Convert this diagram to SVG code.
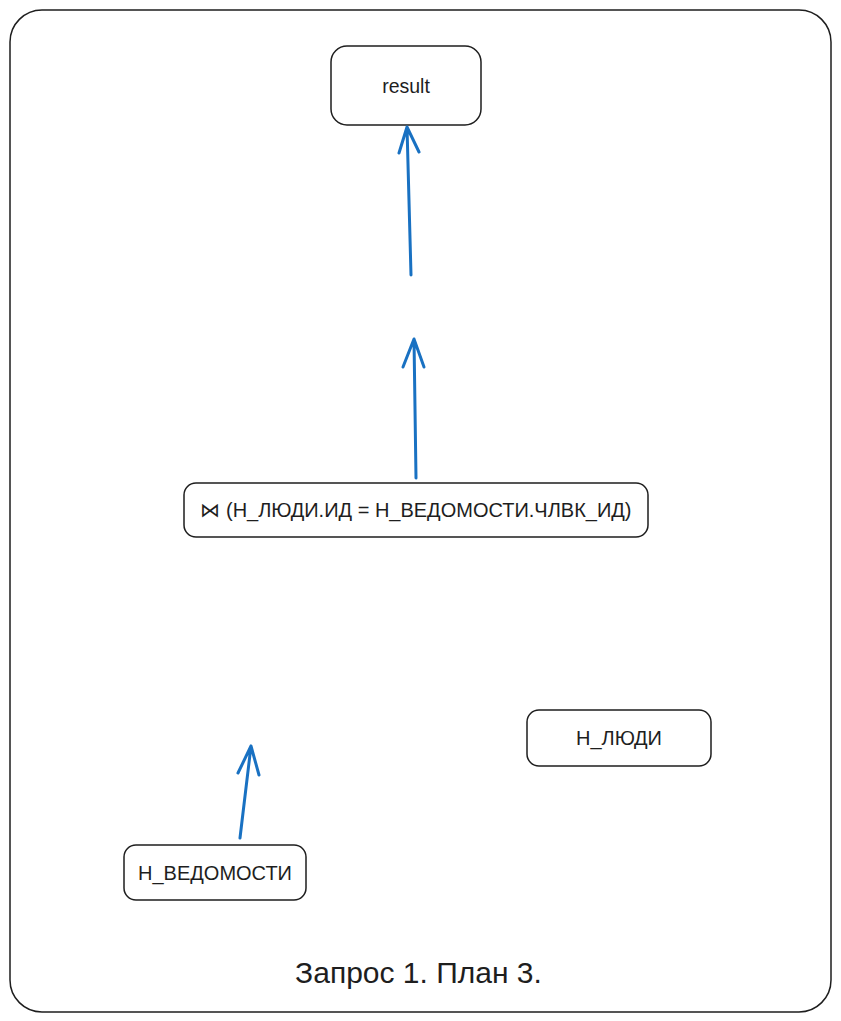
<svg xmlns="http://www.w3.org/2000/svg" width="841" height="1021" viewBox="0 0 841 1021">
<style>
.box{fill:#fff;stroke:#1e1e1e;stroke-width:1.5}
.lbl{font-family:"Liberation Sans",Arial,sans-serif;font-size:20px;fill:#1e1e1e;text-anchor:middle;dominant-baseline:central}
.arr{fill:none;stroke:#1971c2;stroke-width:3;stroke-linecap:round;stroke-linejoin:round}
</style>
<rect width="841" height="1021" fill="#fff"/>
<g id="frame"><rect x="10" y="10" width="821" height="1002" rx="32" class="box"/></g>
<g id="result"><rect x="331" y="46" width="150" height="79" rx="16" class="box"/><text x="406" y="85.5" class="lbl" style="font-size:19.5px">result</text></g>
<g id="join"><rect x="184" y="483" width="464" height="54" rx="12" class="box"/><text x="416" y="510" class="lbl">⋈ (Н_ЛЮДИ.ИД = Н_ВЕДОМОСТИ.ЧЛВК_ИД)</text></g>
<g id="people"><rect x="527" y="710" width="184" height="56" rx="12" class="box"/><text x="619" y="738" class="lbl">Н_ЛЮДИ</text></g>
<g id="records"><rect x="124" y="845" width="182" height="55" rx="12" class="box"/><text x="215" y="872.5" class="lbl">Н_ВЕДОМОСТИ</text></g>
<g id="connectors">
<path class="arr" d="M411 275 L407 127 M399 153 L407 127 L419 152"/>
<path class="arr" d="M416 478 L414 339 M403 367 L414 339 L424 367"/>
<path class="arr" d="M240 838 L251 746 M238 773 L251 746 L259 775"/>
</g>
<text x="418.5" y="972" class="lbl" style="font-size:30px">Запрос 1. План 3.</text>
</svg>
